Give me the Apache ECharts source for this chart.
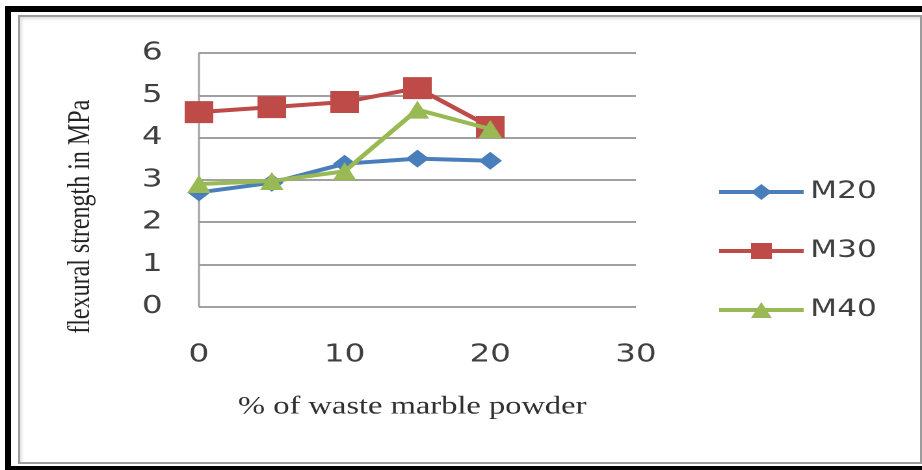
<!DOCTYPE html>
<html>
<head>
<meta charset="utf-8">
<script src="https://cdn.jsdelivr.net/npm/echarts@6/dist/echarts.min.js"></script>
<style>
  html, body { margin: 0; padding: 0; background: #ffffff; overflow: hidden; width: 922px; height: 470px; }
  #frameOuter { position: absolute; left: 5px; top: 6px; width: 940px; height: 466px; box-sizing: border-box; border: 6px solid #000; }
  #frameInner { position: absolute; left: 18px; top: 15px; width: 904px; height: 449px; box-sizing: border-box;
                border: 2px solid #9c9c9c; box-shadow: inset 2px 2px 3px rgba(0,0,0,0.12); }
  /* the chart is laid out at 709px and widened to the full 922px frame */
  #chart { position: absolute; left: 0; top: 0; width: 709px; height: 470px;
           transform: scaleX(1.3004); transform-origin: 0 0; }
</style>
</head>
<body>
<div id="frameOuter"></div>
<div id="frameInner"></div>
<div id="chart"></div>
<script>
// % of waste marble powder
const replacement = [0, 5, 10, 15, 20];
// flexural strength (MPa) per concrete grade
const m20 = [2.70, 2.93, 3.38, 3.50, 3.45];
const m30 = [4.60, 4.72, 4.84, 5.17, 4.25];
const m40 = [2.90, 2.97, 3.20, 4.66, 4.20];
const seriesNames = ['M20', 'M30', 'M40'];
const seriesColors = ['#4a7ebb', '#be4b48', '#98b954'];
const seriesSymbols = ['diamond', 'rect', 'triangle'];
const seriesSymbolSizes = [18, 22, 18];

const pairs = vals => replacement.map((x, i) => [x, vals[i]]);
const allValues = [m20, m30, m40];

const chart = echarts.init(document.getElementById('chart'), null, { renderer: 'canvas', devicePixelRatio: 2 });

chart.setOption({
  backgroundColor: 'transparent',
  animation: false,
  grid: { left: 153, right: 220, top: 53, bottom: 163.5, containLabel: false },
  legend: {
    orient: 'vertical',
    left: 546,
    top: 175,
    itemWidth: 65,
    itemHeight: 20,
    itemGap: 35,
    data: seriesNames,
    lineStyle: { width: 4 },
    textStyle: { fontFamily: 'DejaVu Sans', fontSize: 24, color: '#404040' }
  },
  xAxis: {
    type: 'value',
    min: 0, max: 30, interval: 10,
    name: '% of waste marble powder',
    nameLocation: 'middle',
    nameGap: 88,
    nameTextStyle: { fontFamily: 'Liberation Serif', fontSize: 25, color: '#303030', padding: [0, 8, 0, 0] },
    axisLine: { show: false },
    axisTick: { show: false },
    splitLine: { show: false },
    axisLabel: { fontFamily: 'DejaVu Sans', fontSize: 25, color: '#404040', margin: 36 }
  },
  yAxis: {
    type: 'value',
    min: 0, max: 6, interval: 1,
    name: 'flexural strength in MPa',
    nameLocation: 'middle',
    nameGap: 79,
    nameRotate: 90,
    nameTextStyle: { fontFamily: 'Liberation Serif', fontSize: 24, color: '#222222', padding: [0, 74, 0, 0] },
    axisLine: { show: true, lineStyle: { color: '#a0a0a0', width: 1.5 } },
    axisTick: { show: false },
    splitLine: { show: true, lineStyle: { color: '#a0a0a0', width: 2 } },
    axisLabel: { fontFamily: 'DejaVu Sans', fontSize: 25, color: '#404040', margin: 28 }
  },
  series: seriesNames.map((name, k) => ({
    name: name,
    type: 'line',
    data: pairs(allValues[k]),
    symbol: seriesSymbols[k],
    symbolSize: seriesSymbolSizes[k],
    showSymbol: true,
    itemStyle: { color: seriesColors[k] },
    lineStyle: { color: seriesColors[k], width: 4 },
    z: 2 + k
  }))
});
</script>
</body>
</html>
